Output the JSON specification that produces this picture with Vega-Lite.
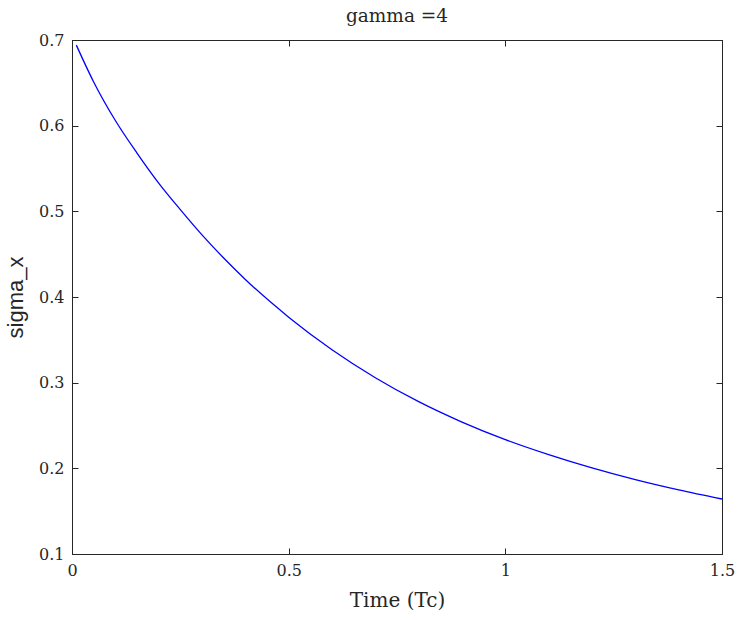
{
  "$schema": "https://vega.github.io/schema/vega-lite/v6.json",
  "autosize": "none",
  "width": 650,
  "height": 514,
  "padding": {"left": 72, "top": 40, "right": 18, "bottom": 66},
  "background": "white",
  "title": {"text": "gamma =4", "font": "DejaVu Serif", "fontSize": 18.5, "fontWeight": "normal", "color": "#262626", "offset": 7},
  "config": {
    "view": {"stroke": "#262626", "strokeWidth": 1},
    "axis": {"grid": false, "domainColor": "#262626", "tickColor": "#262626", "labelColor": "#262626", "titleColor": "#262626", "labelFont": "DejaVu Serif", "labelFontSize": 16, "titleFont": "DejaVu Serif", "titleFontSize": 20, "titleFontWeight": "normal"}
  },
  "data": {"values": [
    {"t": 0.01, "s": 0.694},
    {"t": 0.05, "s": 0.651},
    {"t": 0.1, "s": 0.606},
    {"t": 0.15, "s": 0.568},
    {"t": 0.2, "s": 0.533},
    {"t": 0.25, "s": 0.502},
    {"t": 0.3, "s": 0.4725},
    {"t": 0.35, "s": 0.4455},
    {"t": 0.4, "s": 0.4205},
    {"t": 0.5, "s": 0.3765},
    {"t": 0.6, "s": 0.3385},
    {"t": 0.7, "s": 0.3058},
    {"t": 0.8, "s": 0.2778},
    {"t": 0.9, "s": 0.254},
    {"t": 1.0, "s": 0.2335},
    {"t": 1.1, "s": 0.216},
    {"t": 1.2, "s": 0.2005},
    {"t": 1.3, "s": 0.1868},
    {"t": 1.4, "s": 0.1748},
    {"t": 1.5, "s": 0.1642}
  ]},
  "resolve": {"axis": {"x": "independent", "y": "independent"}},
  "layer": [
    {
      "mark": {"type": "line", "color": "#0000ff", "strokeWidth": 1.3, "interpolate": "monotone"},
      "encoding": {
        "x": {"field": "t", "type": "quantitative", "scale": {"domain": [0, 1.5], "nice": false, "zero": false},
          "axis": {"title": "Time (Tc)", "values": [0, 0.5, 1, 1.5], "format": "~g", "labelFlush": false, "tickSize": -6, "labelPadding": 14, "titlePadding": 12}},
        "y": {"field": "s", "type": "quantitative", "scale": {"domain": [0.1, 0.7], "nice": false, "zero": false},
          "axis": {"title": "sigma_x", "titleFont": "Liberation Sans", "titleFontSize": 22, "values": [0.1, 0.2, 0.3, 0.4, 0.5, 0.6, 0.7], "format": ".1f", "labelFlush": false, "tickSize": -6, "labelPadding": 14, "titlePadding": 11}}
      }
    },
    {
      "mark": {"type": "line", "opacity": 0},
      "encoding": {
        "x": {"field": "t", "type": "quantitative", "axis": {"orient": "top", "title": null, "labels": false, "values": [0, 0.5, 1, 1.5], "tickSize": -6}},
        "y": {"field": "s", "type": "quantitative", "axis": {"orient": "right", "title": null, "labels": false, "values": [0.1, 0.2, 0.3, 0.4, 0.5, 0.6, 0.7], "tickSize": -6}}
      }
    }
  ]
}
